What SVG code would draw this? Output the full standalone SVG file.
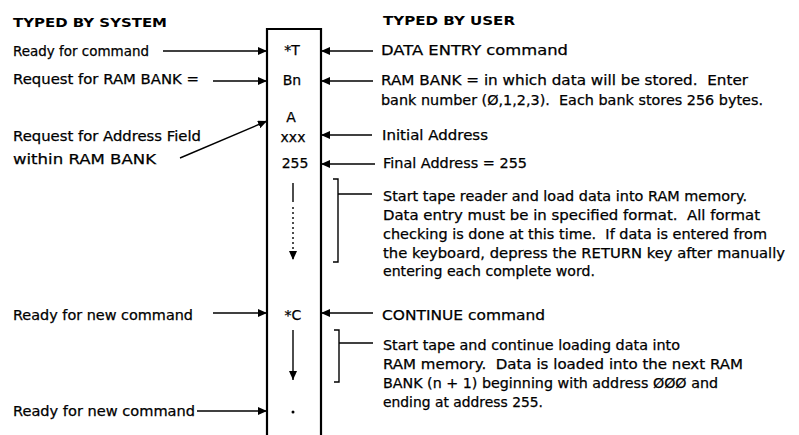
<svg xmlns="http://www.w3.org/2000/svg" width="799" height="435" viewBox="0 0 799 435">
<style>
text{font-family:"DejaVu Sans","Liberation Sans",sans-serif;font-size:14px;fill:#000;stroke:#000;stroke-width:0.25;white-space:pre}
.h{font-weight:bold;font-size:12.5px;stroke-width:0}
.c{text-anchor:middle}
.ln{stroke:#000;stroke-width:1.4;fill:none}
.box{stroke:#000;stroke-width:2.2;fill:none}
.ar{marker-end:url(#ah)}
</style>
<defs>
<marker id="ah" markerWidth="9" markerHeight="8" refX="9" refY="4" orient="auto" markerUnits="userSpaceOnUse">
<path d="M0,0 L9,4 L0,8 z" fill="#000"/>
</marker>
</defs>
<rect width="799" height="435" fill="#fff"/>
<g id="headers">
<text class="h" x="13" y="27" textLength="154" lengthAdjust="spacingAndGlyphs">TYPED BY SYSTEM</text>
<text class="h" x="383" y="25" textLength="132" lengthAdjust="spacingAndGlyphs">TYPED BY USER</text>
</g>
<g id="column">
<path class="box" d="M267,435 V29 H321 V435"/>
<text class="c" x="292" y="55">*T</text>
<text class="c" x="292" y="85">Bn</text>
<text class="c" x="291" y="122">A</text>
<text class="c" x="293" y="142">xxx</text>
<text class="c" x="295" y="168">255</text>
<text class="c" x="293" y="320">*C</text>
<circle cx="293" cy="412" r="1.5" fill="#000"/>
</g>
<g id="sys-ready"><text x="13" y="56" textLength="136" lengthAdjust="spacingAndGlyphs">Ready for command</text></g>
<g id="sys-bank"><text x="13" y="84" textLength="186" lengthAdjust="spacingAndGlyphs">Request for RAM BANK =</text></g>
<g id="sys-addr">
<text x="13" y="141" textLength="188" lengthAdjust="spacingAndGlyphs">Request for Address Field</text>
<text x="13" y="164" textLength="143" lengthAdjust="spacingAndGlyphs">within RAM BANK</text>
</g>
<g id="sys-new1"><text x="13" y="320" textLength="180" lengthAdjust="spacingAndGlyphs">Ready for new command</text></g>
<g id="sys-new2"><text x="13" y="416" textLength="182" lengthAdjust="spacingAndGlyphs">Ready for new command</text></g>
<g id="usr-data"><text x="381" y="55" textLength="187" lengthAdjust="spacingAndGlyphs">DATA ENTRY command</text></g>
<g id="usr-bank">
<text x="381" y="85" textLength="367" lengthAdjust="spacingAndGlyphs">RAM BANK = in which data will be stored.  Enter</text>
<text x="381" y="105" textLength="382" lengthAdjust="spacingAndGlyphs">bank number (Ø,1,2,3).  Each bank stores 256 bytes.</text>
</g>
<g id="usr-init"><text x="382" y="140" textLength="106" lengthAdjust="spacingAndGlyphs">Initial Address</text></g>
<g id="usr-final"><text x="383" y="168" textLength="144" lengthAdjust="spacingAndGlyphs">Final Address = 255</text></g>
<g id="usr-load">
<text x="383" y="201" textLength="364" lengthAdjust="spacingAndGlyphs">Start tape reader and load data into RAM memory.</text>
<text x="383" y="220" textLength="377" lengthAdjust="spacingAndGlyphs">Data entry must be in specified format.  All format</text>
<text x="383" y="239" textLength="384" lengthAdjust="spacingAndGlyphs">checking is done at this time.  If data is entered from</text>
<text x="383" y="258" textLength="402" lengthAdjust="spacingAndGlyphs">the keyboard, depress the RETURN key after manually</text>
<text x="383" y="276" textLength="212" lengthAdjust="spacingAndGlyphs">entering each complete word.</text>
</g>
<g id="usr-cont"><text x="382" y="320" textLength="163" lengthAdjust="spacingAndGlyphs">CONTINUE command</text></g>
<g id="usr-load2">
<text x="383" y="350" textLength="297" lengthAdjust="spacingAndGlyphs">Start tape and continue loading data into</text>
<text x="383" y="369" textLength="360" lengthAdjust="spacingAndGlyphs">RAM memory.  Data is loaded into the next RAM</text>
<text x="383" y="388" textLength="335" lengthAdjust="spacingAndGlyphs">BANK (n + 1) beginning with address ØØØ and</text>
<text x="383" y="407" textLength="160" lengthAdjust="spacingAndGlyphs">ending at address 255.</text>
</g>
<g id="connectors">
<line class="ln ar" x1="163" y1="51" x2="267" y2="51"/>
<line class="ln ar" x1="213" y1="81" x2="267" y2="81"/>
<line class="ln ar" x1="180" y1="158" x2="267" y2="121"/>
<line class="ln ar" x1="213" y1="313" x2="267" y2="313"/>
<line class="ln ar" x1="197" y1="411" x2="267" y2="411"/>
<line class="ln ar" x1="373" y1="51" x2="321" y2="51"/>
<line class="ln ar" x1="373" y1="81" x2="321" y2="81"/>
<line class="ln ar" x1="372" y1="135" x2="321" y2="135"/>
<line class="ln ar" x1="375" y1="164" x2="321" y2="164"/>
<line class="ln ar" x1="373" y1="313" x2="321" y2="313"/>
<line class="ln" x1="293" y1="183" x2="293" y2="202"/>
<line class="ln ar" x1="293" y1="207" x2="293" y2="260" stroke-dasharray="2,3"/>
<line class="ln ar" x1="293" y1="330" x2="293" y2="380"/>
<path class="ln" d="M333,179 H338 V262 H333"/>
<line class="ln" x1="338" y1="194" x2="372" y2="194"/>
<path class="ln" d="M334,330 H339 V382 H334"/>
<line class="ln" x1="339" y1="343" x2="373" y2="343"/>
</g>
</svg>
